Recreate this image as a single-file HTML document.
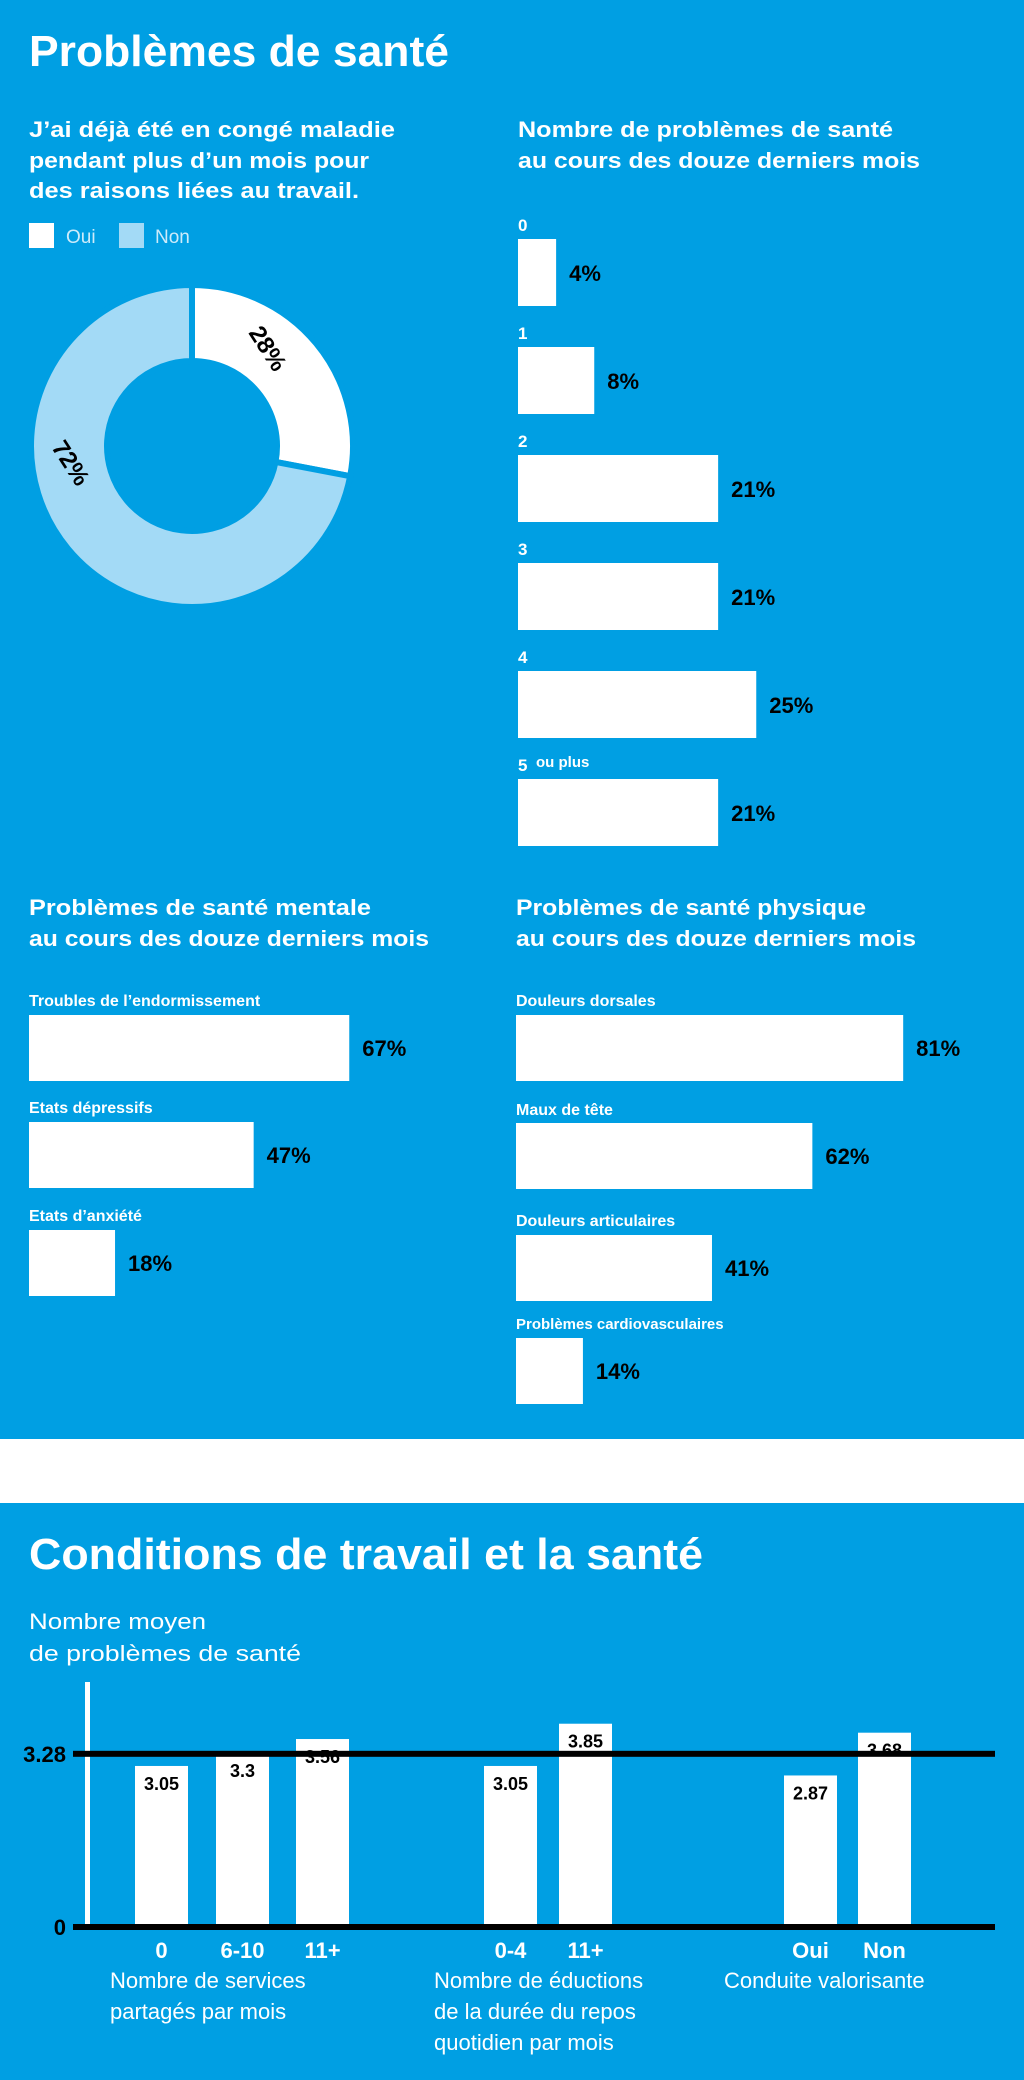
<!DOCTYPE html>
<html><head><meta charset="utf-8"><style>
html,body{margin:0;padding:0;background:#fff}
svg{display:block}
text{font-family:"Liberation Sans",sans-serif}
</style></head><body>
<svg id="root" width="1024" height="2080" viewBox="0 0 1024 2080" xmlns="http://www.w3.org/2000/svg">
<rect x="0" y="0" width="1024" height="1439" fill="#009fe3"/>
<rect x="0" y="1503" width="1024" height="577" fill="#009fe3"/>
<text x="29" y="66" font-size="44" font-weight="bold" fill="#fff" textLength="420" lengthAdjust="spacingAndGlyphs">Problèmes de santé</text>
<g fill="#fff" font-size="22" font-weight="bold">
<text x="29" y="137" textLength="366" lengthAdjust="spacingAndGlyphs">J’ai déjà été en congé maladie</text>
<text x="29" y="168" textLength="340" lengthAdjust="spacingAndGlyphs">pendant plus d’un mois pour</text>
<text x="29" y="198" textLength="330" lengthAdjust="spacingAndGlyphs">des raisons liées au travail.</text>
</g>
<rect x="29" y="223" width="25" height="25" fill="#fff"/>
<text x="66" y="243" font-size="19" fill="#cdebfa">Oui</text>
<rect x="119" y="223" width="25" height="25" fill="#a3daf6"/>
<text x="155" y="243" font-size="19" fill="#cdebfa">Non</text>
<g id="donut"></g>
<g fill="#fff" font-size="22" font-weight="bold">
<text x="518" y="137" textLength="375" lengthAdjust="spacingAndGlyphs">Nombre de problèmes de santé</text>
<text x="518" y="168" textLength="402" lengthAdjust="spacingAndGlyphs">au cours des douze derniers mois</text>
</g>
<g id="countChart"></g>
<g fill="#fff" font-size="22" font-weight="bold">
<text x="29" y="915" textLength="342" lengthAdjust="spacingAndGlyphs">Problèmes de santé mentale</text>
<text x="29" y="946" textLength="400" lengthAdjust="spacingAndGlyphs">au cours des douze derniers mois</text>
</g>
<g fill="#fff" font-size="22" font-weight="bold">
<text x="516" y="915" textLength="350" lengthAdjust="spacingAndGlyphs">Problèmes de santé physique</text>
<text x="516" y="946" textLength="400" lengthAdjust="spacingAndGlyphs">au cours des douze derniers mois</text>
</g>
<g id="mentalChart"></g>
<g id="physChart"></g>
<text x="29" y="1569" font-size="44" font-weight="bold" fill="#fff" textLength="674" lengthAdjust="spacingAndGlyphs">Conditions de travail et la santé</text>
<g fill="#fff" font-size="22">
<text x="29" y="1629" textLength="177" lengthAdjust="spacingAndGlyphs">Nombre moyen</text>
<text x="29" y="1661" textLength="272" lengthAdjust="spacingAndGlyphs">de problèmes de santé</text>
</g>
<g id="condChart"></g>
</svg>
<script>
const NS="http://www.w3.org/2000/svg";
function mk(tag,attrs,parent,txt){const e=document.createElementNS(NS,tag);for(const k in attrs)e.setAttribute(k,attrs[k]);if(txt!==undefined)e.textContent=txt;parent.appendChild(e);return e;}

// Donut data
const donutLabels=["Oui","Non"];
const donutValues=[28,72];
// Count chart data
const countCats=["0","1","2","3","4","5"];
const countValues=[4,8,21,21,25,21];
// Mental health data
const mentalCats=["Troubles de l’endormissement","Etats dépressifs","Etats d’anxiété"];
const mentalValues=[67,47,18];
// Physical health data
const physCats=["Douleurs dorsales","Maux de tête","Douleurs articulaires","Problèmes cardiovasculaires"];
const physValues=[81,62,41,14];
// Conditions chart data
const condCats=["0","6-10","11+","0-4","11+","Oui","Non"];
const condValues=[3.05,3.3,3.56,3.05,3.85,2.87,3.68];
const condValueLabels=["3.05","3.3","3.56","3.05","3.85","2.87","3.68"];
const condAverage=3.28;
const yTickLabels=["0","3.28"];
const condGroupTitles=[["Nombre de services","partagés par mois"],["Nombre de éductions","de la durée du repos","quotidien par mois"],["Conduite valorisante"]];

// Donut
(function(){
  const g=document.getElementById('donut');
  const cx=192,cy=446,R=161,r=85;
  const total=donutValues.reduce((a,b)=>a+b,0);
  const cols=["#ffffff","#a3daf6"];
  let a0=0;
  donutValues.forEach((v,i)=>{
    const a1=a0+v/total*Math.PI*2;
    const p=(a,rad)=>[cx+rad*Math.sin(a),cy-rad*Math.cos(a)];
    const large=(a1-a0)>Math.PI?1:0;
    const [x0,y0]=p(a0,R),[x1,y1]=p(a1,R),[x2,y2]=p(a1,r),[x3,y3]=p(a0,r);
    const path=mk('path',{d:`M${x0},${y0} A${R},${R} 0 ${large} 1 ${x1},${y1} L${x2},${y2} A${r},${r} 0 ${large} 0 ${x3},${y3} Z`,fill:cols[i],stroke:"#009fe3","stroke-width":6},g);
    
    
    const am=(a0+a1)/2;
    const la=i===0?am-0.22:am+0.55;
    const [lx,ly]=p(la,(R+r)/2+(i===0?0:0));
    const t=mk('text',{x:lx,y:ly,"text-anchor":"middle","dominant-baseline":"central","font-size":24,"font-weight":"bold",fill:"#000",transform:`rotate(57 ${lx} ${ly})`},g,v+"%");
    
    
    a0=a1;
  });
})();

// Horizontal bars helper
function hbars(gid,cats,vals,x0,tops,labelYs,scale,labelSizes,prefix){
  const g=document.getElementById(gid);
  cats.forEach((c,i)=>{
    const w=vals[i]*scale;
    const lab=mk('text',{x:x0,y:labelYs[i],"font-size":labelSizes[i],"font-weight":"bold",fill:"#fff"},g,c);
    
    
    const b=mk('rect',{x:x0,y:tops[i],width:w,height:66,fill:"#fff"},g);
    
    
    const v=mk('text',{x:x0+w+13,y:tops[i]+41,"font-size":22,"font-weight":"bold",fill:"#000"},g,vals[i]+"%");
    
    
  });
}
// count chart (custom label for 5 ou plus)
(function(){
  const g=document.getElementById('countChart');
  const x0=518,scale=9.53;
  countCats.forEach((c,i)=>{
    const top=239+i*108;
    const lab=mk('text',{x:x0,y:top-8,"font-size":17,"font-weight":"bold",fill:"#fff"},g,c);
    
    
    if(i===countCats.length-1){
      const op=mk('text',{x:x0+18,y:top-12,"font-size":15,"font-weight":"bold",fill:"#fff"},g,"ou plus");
      
      
    }
    const w=countValues[i]*scale;
    const b=mk('rect',{x:x0,y:top,width:w,height:67,fill:"#fff"},g);
    
    
    const v=mk('text',{x:x0+w+13,y:top+42,"font-size":22,"font-weight":"bold",fill:"#000"},g,countValues[i]+"%");
    
    
  });
})();
hbars('mentalChart',mentalCats,mentalValues,29,[1015,1122,1230],[1006,1113,1221],4.78,[16,16,16],'mental');
hbars('physChart',physCats,physValues,516,[1015,1123,1235,1338],[1006,1115,1226,1329],4.78,[16,16,16,15],'physical');

// Conditions chart
(function(){
  const g=document.getElementById('condChart');
  const y0=1927,unit=52.8;
  const y=v=>y0-v*unit;
  const xs=[135,216,296,484,559,784,858];
  const bw=53;
  const ax=mk('rect',{x:85,y:1682,width:5,height:y0-1682,fill:"#fff"},g);
  
  
  condValues.forEach((v,i)=>{
    const b=mk('rect',{x:xs[i],y:y(v),width:bw,height:y0-y(v),fill:"#fff"},g);
    
    
  });
  const avg=mk('rect',{x:73,y:y(condAverage)-3,width:922,height:6,fill:"#000"},g);
  
  
  const base=mk('rect',{x:73,y:y0-3,width:922,height:6,fill:"#000"},g);
  
  
  condValues.forEach((v,i)=>{
    const t=mk('text',{x:xs[i]+bw/2,y:y(v)+24,"text-anchor":"middle","font-size":18,"font-weight":"bold",fill:"#000"},g,condValueLabels[i]);
    
    
    const c=mk('text',{x:xs[i]+bw/2,y:1958,"text-anchor":"middle","font-size":22,"font-weight":"bold",fill:"#fff"},g,condCats[i]);
    
    
  });
  const tickVals=[0,condAverage];
  yTickLabels.forEach((l,i)=>{
    const t=mk('text',{x:66,y:y(tickVals[i])+8,"text-anchor":"end","font-size":22,"font-weight":"bold",fill:"#000"},g,l);
    
    
  });
  const gx=[110,434,724];
  condGroupTitles.forEach((lines,gi)=>{
    lines.forEach((ln,li)=>{
      const t=mk('text',{x:gx[gi],y:1988+li*31,"font-size":22,fill:"#fff"},g,ln);
      
      
    });
  });
})();
</script>
</body></html>
